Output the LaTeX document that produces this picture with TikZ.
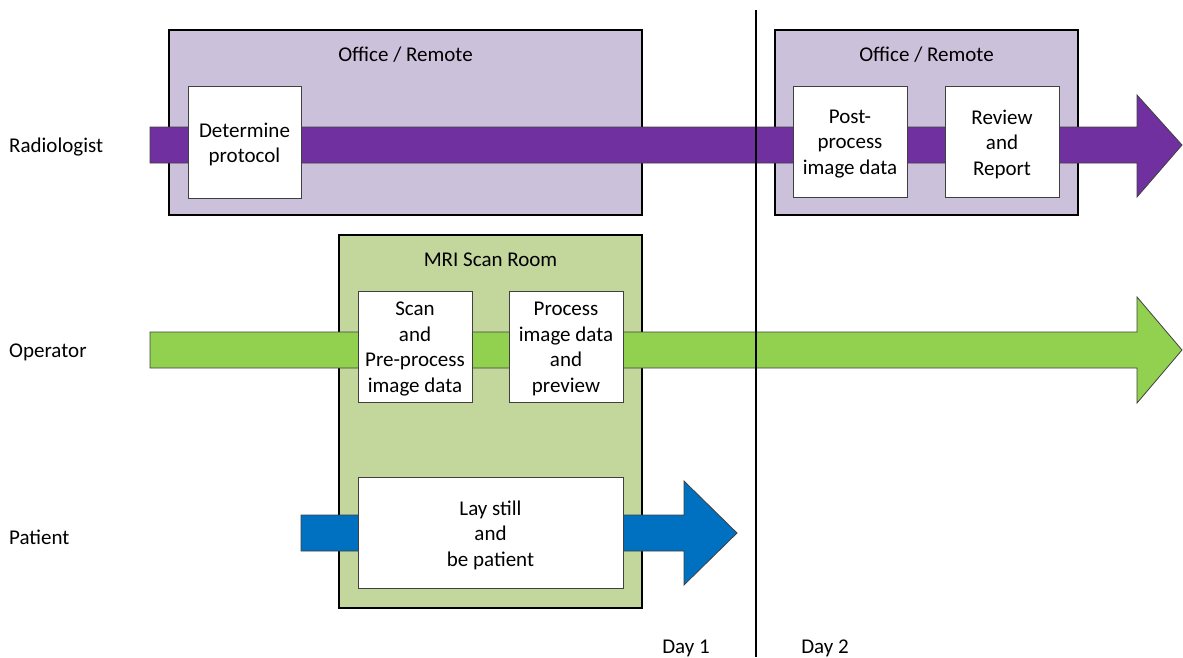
\documentclass[tikz,border=0pt]{standalone}
\usepackage{fontspec}
\setmainfont{Carlito}
\definecolor{purp}{HTML}{7030A0}
\definecolor{lpurp}{HTML}{CCC1DA}
\definecolor{grn}{HTML}{92D050}
\definecolor{lgrn}{HTML}{C3D69B}
\definecolor{blu}{HTML}{0070C0}
\definecolor{edge}{HTML}{404040}
\begin{document}
\begin{tikzpicture}[x=1pt,y=-1pt,
  every node/.style={font=\fontsize{21}{25.5}\selectfont},
  zone/.style={draw=black,line width=1.6pt,rectangle,inner sep=0pt},
  task/.style={draw=edge,line width=1pt,fill=white,rectangle,inner sep=0pt,
    label={[inner sep=0pt,align=center,yshift=-2.5pt]center:#1}},
  lane/.style={draw=edge,line width=0.8pt},
  lbl/.style={inner sep=0pt}]
\useasboundingbox (0,0) rectangle (1183,657);
% zones
\node[zone,fill=lpurp,minimum width=473pt,minimum height=185pt] (office1) at (405.5,122.5) {};
\node[zone,fill=lpurp,minimum width=303pt,minimum height=185pt] (office2) at (926.5,122.5) {};
\node[zone,fill=lgrn,minimum width=303pt,minimum height=373pt] (mri) at (490.5,421.5) {};
\node[lbl] (t1) at (405.5,54.5) {Office / Remote};
\node[lbl] (t2) at (926.5,54.5) {Office / Remote};
\node[lbl] (t3) at (490.5,259.5) {MRI Scan Room};
% lane arrows
\draw[lane,fill=purp] (150,127) -- (1137,127) -- (1137,95) -- (1182,145) -- (1137,197) -- (1137,163) -- (150,163) -- cycle;
\draw[lane,fill=grn] (150,332) -- (1137,332) -- (1137,297) -- (1182,350) -- (1137,403) -- (1137,368) -- (150,368) -- cycle;
\draw[lane,fill=blu] (301,515) -- (684,515) -- (684,481) -- (737,533) -- (684,585) -- (684,551) -- (301,551) -- cycle;
% tasks
\node[task={Determine\\protocol},minimum width=113pt,minimum height=112pt] (det) at (244.5,142) {};
\node[task={Post-\\process\\image data},minimum width=114pt,minimum height=111pt] (post) at (850,141.5) {};
\node[task={Review\\and\\Report},minimum width=114pt,minimum height=111pt] (rev) at (1002,141.5) {};
\node[task={Scan\\and\\Pre-process\\image data},minimum width=114pt,minimum height=111pt] (scan) at (415,346.5) {};
\node[task={Process\\image data\\and\\preview},minimum width=114pt,minimum height=111pt] (proc) at (566,346.5) {};
\node[task={Lay still\\and\\be patient},minimum width=265pt,minimum height=111pt] (lay) at (490.5,532.5) {};
% lane labels
\node[lbl,anchor=west] (rad) at (9,147) {Radiologist};
\node[lbl,anchor=west] (op) at (9,352) {Operator};
\node[lbl,anchor=west] (pat) at (9,537) {Patient};
% day divider
\coordinate (dtop) at (756,10);
\coordinate (dbot) at (756,657);
\draw[line width=1.5pt] (dtop) -- (dbot);
\node[lbl] (d1) at (686,648) {Day 1};
\node[lbl] (d2) at (825,648) {Day 2};
\end{tikzpicture}
\end{document}
